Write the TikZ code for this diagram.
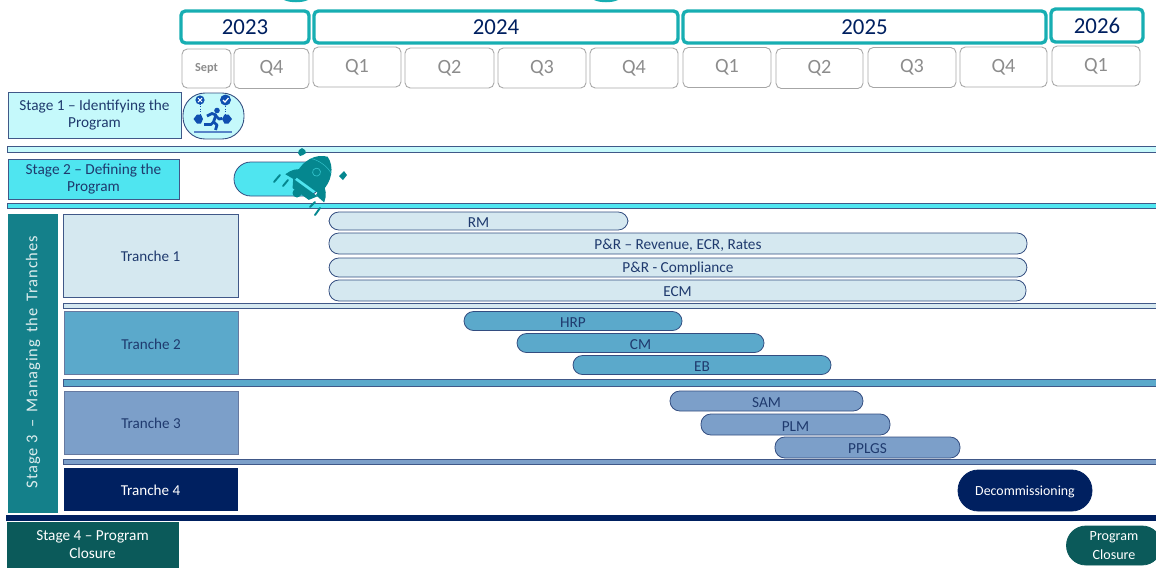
\documentclass[tikz,border=0pt]{standalone}
\usepackage{fontspec}
\setmainfont{Carlito}
\definecolor{navy}{HTML}{002060}
\definecolor{ink}{HTML}{1F3A6E}
\definecolor{yearteal}{HTML}{17AEB2}
\definecolor{quartergray}{HTML}{A6A6A6}
\definecolor{stageone}{HTML}{C5F9FB}
\definecolor{stagetwo}{HTML}{4FE5F0}
\definecolor{stagethree}{HTML}{14808A}
\definecolor{stagefour}{HTML}{0B5A5A}
\definecolor{trone}{HTML}{D5E8F0}
\definecolor{trtwo}{HTML}{5BA9CB}
\definecolor{trthree}{HTML}{7C9FC9}
\definecolor{rocket}{HTML}{05878F}
\definecolor{runner}{HTML}{0F4FB0}
\tikzset{
  box/.style={draw=#1,line width=0.45pt,inner sep=0pt,align=center,text=ink,font=\fontsize{8.6}{10.3}\selectfont,execute at begin node=\rule{0pt}{7.4pt}},
  stagebox/.style={box=#1,font=\fontsize{8.7}{10.2}\selectfont,execute at begin node=\rule{0pt}{10.6pt}},
  yearbox/.style={draw=yearteal,line width=1.9pt,rounded corners=2.5pt,inner sep=0pt,text=navy,font=\fontsize{13}{14}\selectfont},
  quarterbox/.style={draw=quartergray,line width=0.5pt,rounded corners=3pt,inner sep=0pt,text=gray!90,font=\fontsize{11.5}{13}\selectfont},
  pill/.style={draw=navy!80,line width=0.45pt,rounded corners=#1,inner sep=0pt,text=ink,font=\fontsize{8.7}{10}\selectfont,execute at begin node=\rule{0pt}{7.4pt}},
  rule/.style={draw=navy!75,line width=0.45pt,inner sep=0pt}
}
\begin{document}
\begin{tikzpicture}[x=0.02cm,y=-0.02cm]
\useasboundingbox (0,0) rectangle (1156,569);
% top edge slivers
\fill[yearteal] (284,0) .. controls (290,3) and (302,3) .. (308,0) -- cycle;
\fill[yearteal] (594,0) .. controls (600,3) and (612,3) .. (618,0) -- cycle;
% years
\foreach \nm/\cx/\cy/\w/\h/\yr in {ya/245/27/128/32/2023,yb/496/27/364/32/2024,yc/864.5/27/363/32/2025,yd/1097/25.5/92/33/2026}
  \node[yearbox,minimum width=\w*0.02cm,minimum height=\h*0.02cm] (\nm) at (\cx,\cy) {\yr};
% quarters
\node[quarterbox,minimum width=0.98cm,minimum height=0.78cm,font=\fontsize{7}{8}\bfseries\selectfont] (sept) at (206.5,68.5) {Sept};
\foreach \nm/\cx/\cy/\w/\q in {qa/271.5/68.5/75/Q4,qb/357/67/88/Q1,qc/449.5/68/89/Q2,qd/542/68/88/Q3,qe/634/68/88/Q4,qf/727/67.5/88/Q1,qg/819.5/68.5/87/Q2,qh/912/67.5/88/Q3,qi/1003.5/67/87/Q4,qj/1096/66/88/Q1}
  \node[quarterbox,minimum width=\w*0.02cm,minimum height=0.8cm] (\nm) at (\cx,\cy) {\q};
% stages
\node[stagebox=navy!75,fill=stageone,minimum width=3.46cm,minimum height=0.92cm] (stagea) at (94.5,115) {Stage 1 -- Identifying the\\Program};
\node[stagebox=navy!75,fill=stagetwo,minimum width=3.42cm,minimum height=0.8cm] (stageb) at (93.5,179) {Stage 2 -- Defining the\\Program};
\node[box=stagethree,fill=stagethree,minimum width=0.98cm,minimum height=5.96cm] (stagec) at (32.5,363) {};
\node[rotate=90,text=white!85!stagethree,font=\fontsize{9.4}{11}\addfontfeature{LetterSpace=5}\selectfont] (stagectext) at (33,362) {Stage 3 \,--\, Managing\, the\, Tranches};
\node[stagebox=stagefour,fill=stagefour,text=white,minimum width=3.42cm,minimum height=0.9cm] (staged) at (92.5,544.5) {Stage 4 -- Program\\Closure};
% separators
\node[rule,fill=stageone,minimum width=22.98cm,minimum height=0.12cm] (sepa) at (581.5,149) {};
\node[rule,fill=stagetwo,minimum width=22.98cm,minimum height=0.1cm] (sepb) at (581.5,205.5) {};
\node[rule,fill=trone,minimum width=21.86cm,minimum height=0.1cm] (sepc) at (609.5,305.5) {};
\node[rule,fill=trtwo,minimum width=21.86cm,minimum height=0.14cm] (sepd) at (609.5,382.5) {};
\node[rule,fill=trthree,minimum width=21.86cm,minimum height=0.1cm] (sepe) at (609.5,461.5) {};
\node[rule,draw=navy,fill=navy,minimum width=23cm,minimum height=0.1cm] (sepf) at (581,517.5) {};
% tranches
\node[box=navy!75,fill=trone,minimum width=3.5cm,minimum height=1.66cm] (tra) at (150.5,255.5) {Tranche 1};
\node[box=navy!60,fill=trtwo,minimum width=3.48cm,minimum height=1.26cm] (trb) at (151,343) {Tranche 2};
\node[box=navy!60,fill=trthree,minimum width=3.48cm,minimum height=1.26cm] (trc) at (151,422.5) {Tranche 3};
\node[box=navy,fill=navy,text=white,minimum width=3.46cm,minimum height=0.84cm] (trd) at (150.5,489) {Tranche 4};
% bars
\foreach \nm/\cx/\cy/\w/\h/\lbl in {rm/478.5/221/299/18/RM,rev/678/243.5/698/21/{P\&R -- Revenue, ECR, Rates},comp/678/267.5/698/19/P\&R - Compliance,ecm/677.5/290.5/697/21/ECM}
  \node[pill=5.6pt,fill=trone,minimum width=\w*0.02cm,minimum height=\h*0.02cm] (\nm) at (\cx,\cy) {\lbl};
\foreach \nm/\cx/\cy/\w/\h/\lbl in {hrp/573/321/218/19/HRP,cm/640.5/343/247/19/CM,eb/702/365/258/19/EB}
  \node[pill=5.4pt,fill=trtwo,minimum width=\w*0.02cm,minimum height=\h*0.02cm] (\nm) at (\cx,\cy) {\lbl};
\foreach \nm/\cx/\cy/\w/\h/\lbl in {sam/766.5/401/193/20/SAM,plm/795.5/424.5/189/21/PLM,ppl/867.5/447.5/185/21/PPLGS}
  \node[pill=5.6pt,fill=trthree,minimum width=\w*0.02cm,minimum height=\h*0.02cm] (\nm) at (\cx,\cy) {\lbl};
\node[pill=11.5pt,draw=navy,fill=navy,text=white,font=\fontsize{7.9}{10}\selectfont,minimum width=2.68cm,minimum height=0.82cm] (decom) at (1025,490.5) {Decommissioning};
\begin{scope}
\clip (0,0) rectangle (1156,569);
\node[pill=11pt,draw=stagefour,fill=stagefour,text=white,minimum width=1.9cm,minimum height=0.78cm,align=center,font=\fontsize{8}{10.5}\selectfont] (closure) at (1114,545.5) {Program\\Closure};
\end{scope}
% stage 1 badge
\node[draw=navy!80,line width=0.5pt,fill=stageone,rounded corners=12.5pt,minimum width=1.22cm,minimum height=0.92cm,inner sep=0pt] (badge) at (213.5,116) {};
\draw[runner!70,line width=0.8pt] (194,132) -- (232,132);
\draw[runner,densely dotted,line width=0.4pt] (200,104) -- (200,115) (225,104) -- (225,115);
\fill[runner] (200,100) circle (4.6);
\fill[runner] (225.5,100) circle (5.5);
\draw[white,line width=0.6pt] (198,98) -- (202,102) (202,98) -- (198,102);
\draw[white,line width=0.7pt] (223,100) -- (225,102) -- (228.5,98);
\fill[runner] (193.5,119) -- (197,114.5) -- (201,114.5) -- (203,119) -- (201,123.5) -- (197,123.5) -- cycle;
\fill[runner] (232,119) -- (228.5,114.5) -- (224.5,114.5) -- (222,119) -- (224.5,123.5) -- (228.5,123.5) -- cycle;
\fill[runner] (217,110.5) circle (2.8);
\draw[runner,line width=1.6pt,line join=round] (207,116) -- (212,113.5) -- (216,115) -- (213.5,122) -- (217,125) -- (215.5,130);
\draw[runner,line width=1.6pt,line join=round] (215,115) -- (219,119) -- (222,118.5);
\draw[runner,line width=1.6pt,line join=round] (213.5,122) -- (211,124.5) -- (204,124.5);
% stage 2 pill and rocket
\node[pill=9.6pt,fill=stagetwo,minimum width=1.76cm,minimum height=0.68cm] (launch) at (278,179) {};
\draw[rocket,line width=1.1pt,line cap=round] (274,182) -- (280,175) (283,186) -- (288,180) (310,207) -- (315,202) (315,215) -- (320,208);
\fill[rocket] (302,148) -- (305,150) -- (306,153) -- (303,155) -- (300,156) -- (298,153) -- (299,150) -- cycle;
\fill[rocket] (344,171) -- (347,175) -- (343,180) -- (339,176) -- cycle;
\fill[rocket] (297,193) circle (4.5);
\begin{scope}[shift={(313,177)},rotate=-36,x=0.02cm,y=0.02cm]
\fill[rocket] (-12,0) .. controls (-18,-2) and (-22,-7) .. (-24,-14) -- (-13,-13) -- cycle;
\fill[rocket] (12,0) .. controls (18,-2) and (22,-7) .. (24,-14) -- (13,-13) -- cycle;
\fill[rocket] (-15,-13) -- (15,-13) -- (10,-21) -- (-10,-21) -- cycle;
\fill[rocket] (-15,-10) .. controls (-19,8) and (-11,21) .. (0,25) .. controls (11,21) and (19,8) .. (15,-10) -- cycle;
\draw[stagetwo!60!rocket,line width=0.3pt] (-12,14) .. controls (-5,17) and (5,17) .. (12,14);
\draw[stagetwo!60!rocket,line width=0.4pt] (0,6) circle (4);
\end{scope}
\end{tikzpicture}
\end{document}
